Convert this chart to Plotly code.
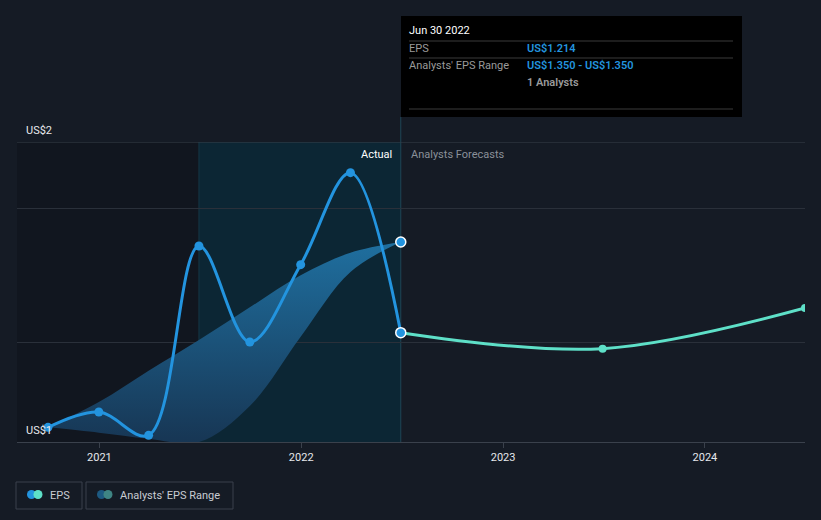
import plotly.graph_objects as go

# ---------------- data ----------------
eps_dates = ["2020-09-30", "2020-12-31", "2021-03-31", "2021-06-30",
             "2021-09-30", "2021-12-31", "2022-03-31", "2022-06-30"]
eps_values = [1.072, 1.095, 1.060, 1.344, 1.200, 1.316, 1.454, 1.214]

fc_dates = ["2022-06-30", "2023-06-30", "2024-06-30"]
fc_values = [1.214, 1.190, 1.251]

range_dates = ["2020-09-30", "2020-12-31", "2021-03-31", "2021-06-30",
               "2021-09-30", "2021-12-31", "2022-03-31", "2022-06-30"]
range_high = [1.072, 1.110, 1.157, 1.203, 1.252, 1.300, 1.334, 1.350]
range_low = [1.072, 1.064, 1.055, 1.050, 1.104, 1.208, 1.305, 1.350]

x_ticks = ["2021-01-01", "2022-01-01", "2023-01-01", "2024-01-01"]
x_tick_labels = ["2021", "2022", "2023", "2024"]
y_grid = [1.2, 1.4]
y_top, y_bottom = 1.5, 1.05
y_labels = ["US$2", "US$1"]

# ---------------- style ----------------
BG = "#151b25"
BLUE = "#2394df"
TEAL = "#5ee0c8"
GRID = "#2a303a"
W, H = 821, 520
L, R, T, B = 17, 16, 142, 78
PW, PH = W - L - R, H - T - B


def xp(px):
    return (px - L) / PW


def yp(py):
    return (H - B - py) / PH


fig = go.Figure()

# analysts' range band
fig.add_trace(go.Scatter(x=range_dates, y=range_low, mode="lines",
                         line=dict(width=0, shape="spline", smoothing=1),
                         hoverinfo="skip", showlegend=False))
fig.add_trace(go.Scatter(x=range_dates, y=range_high, mode="lines",
                         line=dict(width=0, shape="spline", smoothing=1),
                         fill="tonexty",
                         fillgradient=dict(type="vertical", start=1.05, stop=1.35,
                                           colorscale=[[0, "#173654"], [1, "#1f6f9f"]]),
                         hoverinfo="skip", showlegend=False))

# forecast line
fig.add_trace(go.Scatter(x=fc_dates, y=fc_values, mode="lines+markers",
                         line=dict(color=TEAL, width=3, shape="spline", smoothing=1),
                         marker=dict(color=TEAL, size=8),
                         showlegend=False))
# actual line
fig.add_trace(go.Scatter(x=eps_dates, y=eps_values, mode="lines+markers",
                         line=dict(color=BLUE, width=3, shape="spline", smoothing=1),
                         marker=dict(color=BLUE, size=9),
                         showlegend=False))
# highlighted points
fig.add_trace(go.Scatter(x=[eps_dates[-1], range_dates[-1]],
                         y=[eps_values[-1], range_high[-1]], mode="markers",
                         marker=dict(color=BLUE, size=10, line=dict(color="white", width=1.5)),
                         showlegend=False))

shapes = []
# past region (darker) and actual highlight region
shapes.append(dict(type="rect", xref="x", yref="paper", x0="2020-08-05", x1="2021-06-30",
                   y0=0, y1=1, fillcolor="#11161f", line=dict(width=0), layer="below"))
shapes.append(dict(type="rect", xref="x", yref="paper", x0="2021-06-30", x1="2022-06-30",
                   y0=0, y1=1, fillcolor="#0c2634", line=dict(width=0), layer="below"))
shapes.append(dict(type="line", xref="x", yref="paper", x0="2021-06-30", x1="2021-06-30",
                   y0=0, y1=1, line=dict(color="#173746", width=1), layer="below"))
shapes.append(dict(type="line", xref="x", yref="paper", x0="2022-06-30", x1="2022-06-30",
                   y0=0, y1=yp(117), line=dict(color="#1f4656", width=1), layer="below"))
# top gridline
shapes.append(dict(type="line", xref="paper", yref="y", x0=0, x1=1, y0=y_top, y1=y_top,
                   line=dict(color="#39404b", width=1), layer="below"))

# tooltip box
shapes.append(dict(type="rect", xref="paper", yref="paper", x0=xp(401), x1=xp(742),
                   y0=yp(117), y1=yp(16), fillcolor="#000000", line=dict(width=0),
                   layer="above"))
for ly in (41, 58, 109):
    shapes.append(dict(type="line", xref="paper", yref="paper", x0=xp(409), x1=xp(733),
                       y0=yp(ly), y1=yp(ly), line=dict(color="#3a3a3a", width=1),
                       layer="above"))

# legend boxes
for x0, x1 in ((16, 82), (86, 233)):
    shapes.append(dict(type="rect", xref="paper", yref="paper", x0=xp(x0), x1=xp(x1),
                       y0=yp(509), y1=yp(482), fillcolor=BG,
                       line=dict(color="#3a414c", width=1)))
# legend icons
for cx, col in ((31.5, BLUE), (38, TEAL), (101.5, "#1d5a82"), (108, "#3f8584")):
    shapes.append(dict(type="circle", xref="paper", yref="paper",
                       x0=xp(cx - 4.5), x1=xp(cx + 4.5), y0=yp(499), y1=yp(490),
                       fillcolor=col, line=dict(width=0)))

FONT = "Roboto"
ann = []


def txt(px, py, s, color, size=11, anchor="left", weight=None):
    f = dict(family=FONT, size=size, color=color)
    if weight:
        f["weight"] = weight
    ann.append(dict(x=xp(px), y=yp(py), xref="paper", yref="paper", text=s,
                    showarrow=False, xanchor=anchor, yanchor="middle", font=f))


txt(24, 130, y_labels[0], "#e8eaee", 11)
txt(24, 430, y_labels[1], "#e8eaee", 11)
txt(394, 154, "Actual", "#ffffff", 11, "right")
txt(409, 154, "Analysts Forecasts", "#8a9099", 11)

txt(407, 31, "Jun 30 2022", "#ffffff", 11)
txt(407, 49, "EPS", "#9a9a9a", 11)
txt(525, 49, "US$1.214", BLUE, 11, weight=600)
txt(407, 66, "Analysts' EPS Range", "#9a9a9a", 11)
txt(525, 66, "US$1.350 - US$1.350", BLUE, 11, weight=600)
txt(525, 83, "1 Analysts", "#9a9a9a", 11, weight=600)

txt(48, 495, "EPS", "#c8ccd3", 11)
txt(118, 495, "Analysts' EPS Range", "#c8ccd3", 11)

fig.update_layout(
    width=W, height=H,
    margin=dict(l=L, r=R, t=T, b=B),
    paper_bgcolor=BG, plot_bgcolor=BG,
    shapes=shapes, annotations=ann,
    showlegend=False,
    xaxis=dict(type="date", range=["2020-08-05", "2024-06-30"],
               tickvals=x_ticks, ticktext=x_tick_labels,
               showgrid=False, zeroline=False,
               showline=True, linecolor="#3a414c", linewidth=1,
               ticks="outside", ticklen=5, tickcolor="#3a414c",
               tickfont=dict(family=FONT, size=11, color="#e6e8ec")),
    yaxis=dict(range=[y_bottom, y_top], tickvals=y_grid, showticklabels=False,
               showgrid=True, gridcolor=GRID, gridwidth=1, zeroline=False,
               showline=False, fixedrange=True),
    hovermode=False,
)

fig.write_html("out.html", config={"displayModeBar": False},
               post_script="document.body.style.margin='0';document.body.style.background='%s';" % BG)
